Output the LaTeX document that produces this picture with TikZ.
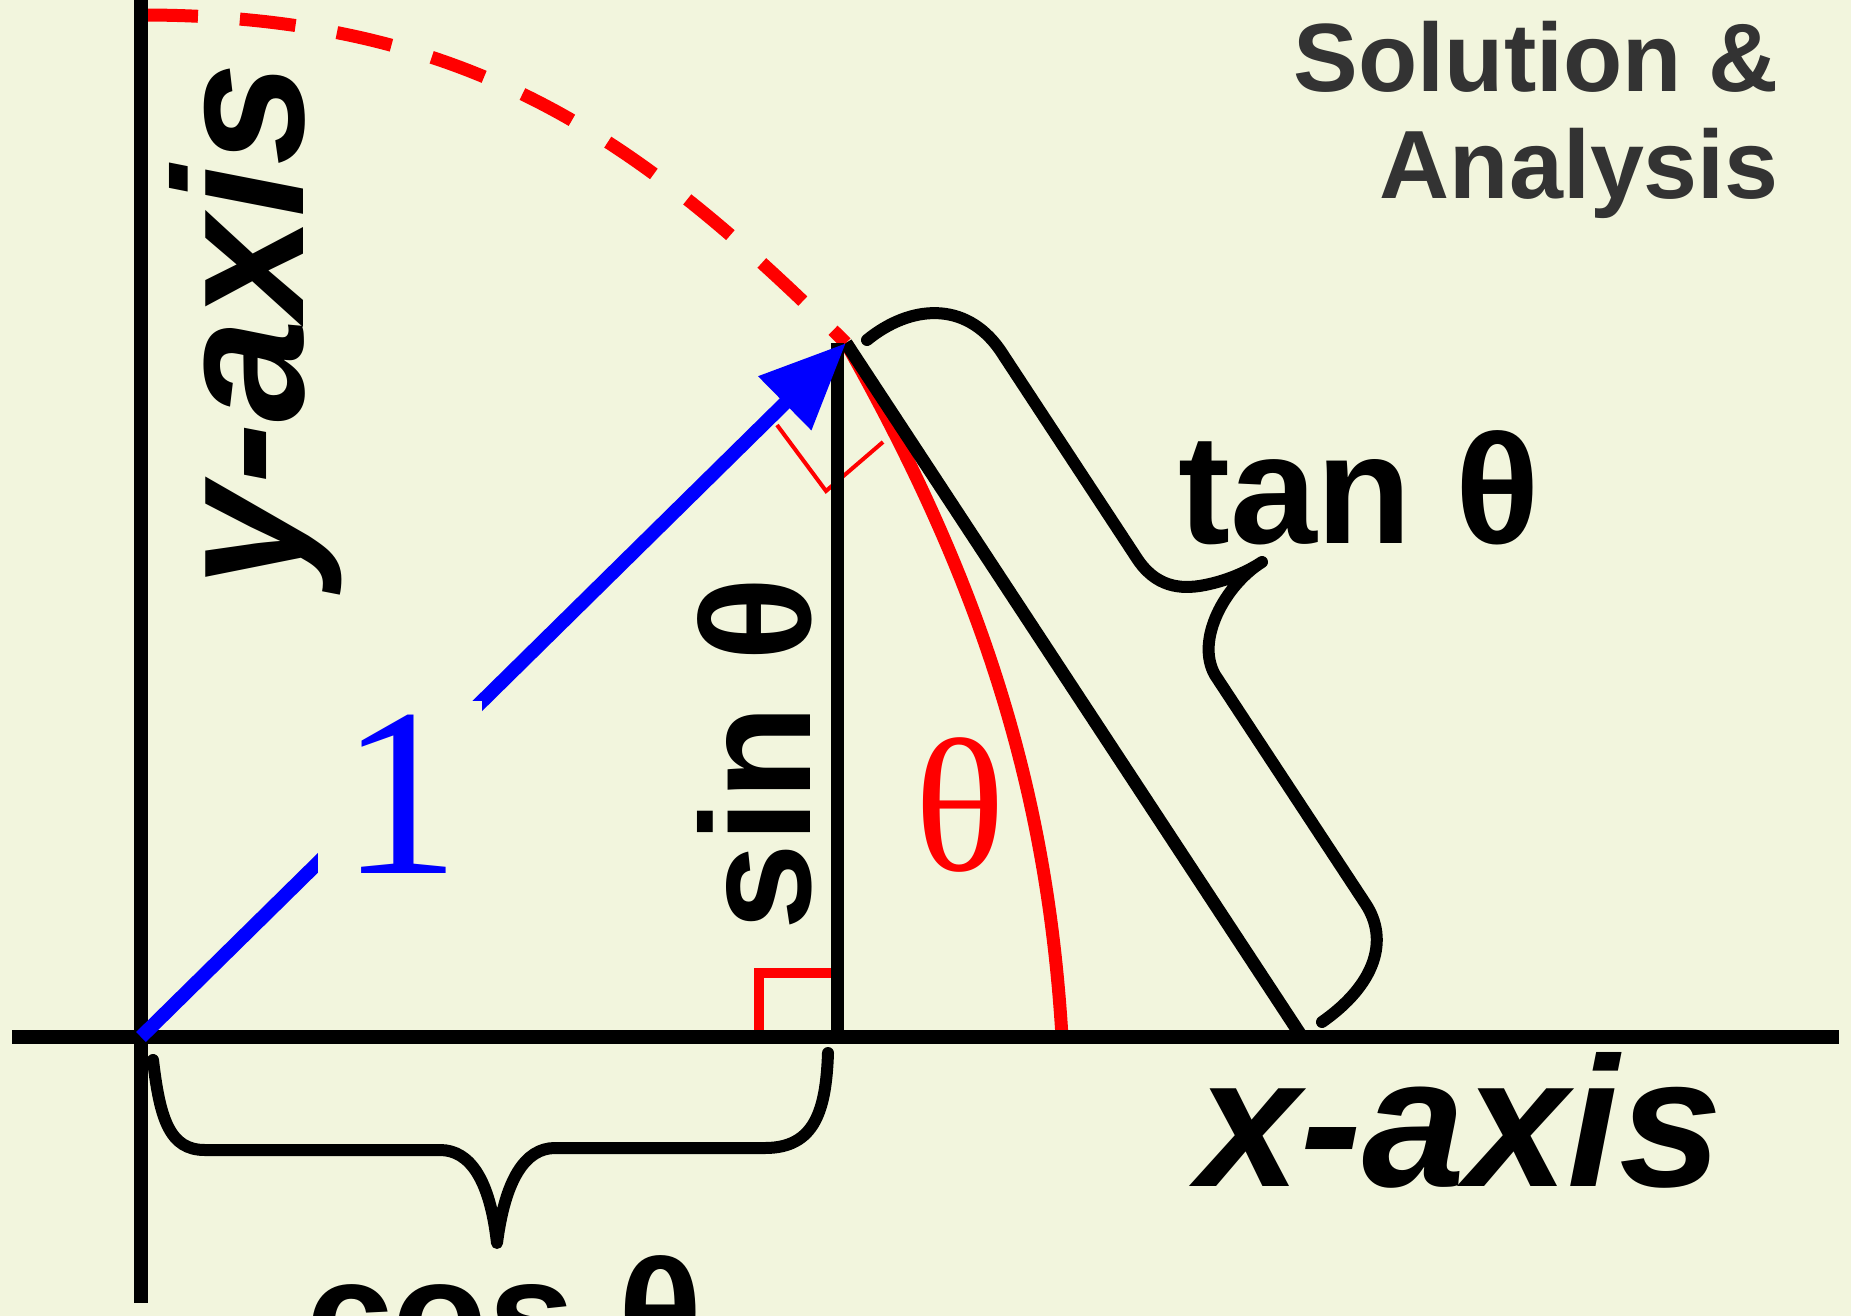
\documentclass[tikz,border=0pt]{standalone}
\usepackage{fontspec}
\setmainfont{Liberation Sans}
\newfontfamily\timesfont{Liberation Serif}
\usetikzlibrary{arrows.meta}
\definecolor{paper}{RGB}{242,245,221}
\definecolor{titlegray}{RGB}{51,51,51}

\begin{document}
\begin{tikzpicture}[x=1pt, y=-1pt,
    axis/.style={line width=14pt},
    side/.style={line width=13pt},
    brace/.style={line width=12pt, line cap=round, line join=round},
    trig/.style={font=\fontsize{156}{160}\selectfont\bfseries, inner sep=0pt},
    axlabel/.style={font=\fontsize{185}{190}\selectfont\bfseries\itshape, inner sep=0pt},
    title/.style={font=\fontsize{97}{100}\selectfont\bfseries, text=titlegray, inner sep=0pt, anchor=base east}]
        % Page
        \fill[paper] (0,0) rectangle (1851,1316);
        \clip (0,0) rectangle (1851,1316);

        % Points
        \coordinate (O) at (141,1037);
        \coordinate (P) at (846,343);
        \coordinate (Q) at (837,343);
        \coordinate (F) at (837,1037);
        \coordinate (T) at (1302,1037);
        \coordinate (A) at (1062,1037);
        \coordinate (C) at (142,15);
        \coordinate (ytop) at (141,0);
        \coordinate (ybot) at (141,1303);
        \coordinate (xleft) at (12,1037);
        \coordinate (xright) at (1839,1037);

        % Circle (dashed) and arc of theta
        \draw[red, line width=13pt, dash pattern=on 56pt off 42pt] (C) .. controls (480,15) and (650,150) .. (P);
        \draw[red, line width=13pt] (P) .. controls (980,580) and (1047,786) .. (A);

        % Right angles
        \draw[red, line width=4pt] (777,425) -- (826,491) -- (883,442);
        \draw[red, line width=10pt] (759,1037) -- (759,973) -- (837,973);

        % Sides
        \draw[side] (Q) -- (F);
        \draw[side] (P) -- (T);

        % Axes
        \draw[axis] (ytop) -- (ybot);
        \draw[axis] (xleft) -- (xright);

        % Radius
        \draw[blue, line width=14pt, -{Triangle[length=86pt, width=72pt]}] (O) -- (P);
        \node[fill=paper, text=blue, font=\fontsize{240}{240}\selectfont\timesfont,
              inner xsep=0pt, inner ysep=14pt, minimum width=164pt, anchor=base] (one) at (400,873) {1};

        % Braces
        \draw[brace] (867,340) .. controls (910,305) and (965,300) .. (1000,350)
            -- (1136,557) .. controls (1155,587) and (1180,590) .. (1205,585)
            .. controls (1230,580) and (1250,570) .. (1262,562)
            .. controls (1225,585) and (1195,640) .. (1215,675)
            -- (1365,903) .. controls (1390,940) and (1375,985) .. (1322,1022);
        \draw[brace] (153,1060) .. controls (160,1120) and (170,1150) .. (205,1150)
            -- (440,1150) .. controls (470,1150) and (490,1180) .. (497,1243)
            .. controls (505,1180) and (525,1148) .. (555,1148)
            -- (765,1148) .. controls (815,1148) and (826,1110) .. (828,1053);

        % Labels
        \node[axlabel, rotate=90, anchor=base] (ylab) at (303,325) {y-axis};
        \node[axlabel, anchor=base] (xlab) at (1460,1186) {x-axis};
        \node[trig, rotate=90, anchor=base] (sinlab) at (810,754) {sin θ};
        \node[trig, anchor=base west] (tanlab) at (1178,543) {tan θ};
        \node[trig, anchor=base west] (coslab) at (306,1368) {cos θ};
        \node[red, font=\fontsize{190}{190}\selectfont\timesfont, inner sep=0pt, anchor=base] (theta) at (960,870) {θ};
        \node[title] (title1) at (1779,92) {Solution \&};
        \node[title] (title2) at (1779,198) {Analysis};
    \end{tikzpicture}
\end{document}
